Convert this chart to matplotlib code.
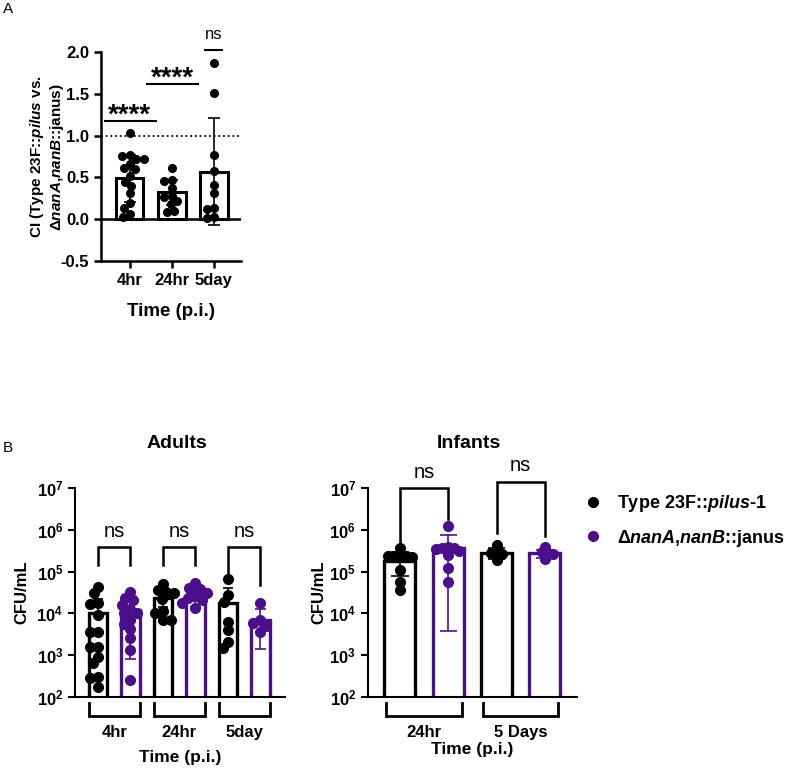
import numpy as np
import matplotlib
matplotlib.use('Agg')
import matplotlib.pyplot as plt
import matplotlib.transforms as mtransforms
from matplotlib.lines import Line2D

plt.rcParams['font.family'] = ['Liberation Sans', 'DejaVu Sans']
plt.rcParams['font.weight'] = 'bold'
plt.rcParams['axes.labelweight'] = 'bold'
plt.rcParams['mathtext.fontset'] = 'custom'
plt.rcParams['mathtext.rm'] = 'Liberation Sans:bold'
plt.rcParams['mathtext.it'] = 'Liberation Sans:bold:italic'
plt.rcParams['mathtext.bf'] = 'Liberation Sans:bold'

PURPLE = '#4B0F8C'

# ---- panel A: competitive index ----
ci_times = ['4hr', '24hr', '5day']
ci_4hr = [1.03, 0.77, 0.76, 0.72, 0.72, 0.66, 0.61, 0.60, 0.52, 0.45, 0.40, 0.31, 0.20, 0.14, 0.06, 0.03]
ci_24hr = [0.61, 0.47, 0.46, 0.37, 0.28, 0.27, 0.22, 0.18, 0.10, 0.09]
ci_5day = [1.87, 1.51, 0.77, 0.58, 0.41, 0.31, 0.14, 0.12, 0.03, 0.01]
ci_mean = [0.49, 0.32, 0.57]
ci_sd = [0.28, 0.145, 0.64]

# ---- panel B: CFU/mL (log10 of each animal) ----
adult_times = ['4hr', '24hr', '5day']
adult_wt = [[4.64, 4.48, 4.26, 4.22, 3.95, 3.55, 3.55, 3.20, 3.20, 2.95, 2.80, 2.48, 2.45, 2.24],
            [4.70, 4.55, 4.52, 4.48, 4.35, 4.05, 4.00, 3.85, 3.83],
            [4.82, 4.44, 4.28, 3.80, 3.60, 3.32, 3.18]]
adult_mut = [[4.52, 4.38, 4.32, 4.20, 4.10, 4.00, 4.00, 3.85, 3.75, 3.62, 3.40, 3.12, 2.40],
             [4.74, 4.62, 4.58, 4.50, 4.42, 4.38, 4.32, 4.25, 4.12],
             [4.24, 3.84, 3.78, 3.70, 3.55]]
adult_wt_mean = [1.0e4, 2.3e4, 1.75e4]
adult_wt_hi = [2.2e4, 3.3e4, 4.0e4]
adult_wt_lo = [None, 1.4e4, None]
adult_mut_mean = [1.2e4, 2.5e4, 7.0e3]
adult_mut_hi = [1.9e4, 4.0e4, 1.3e4]
adult_mut_lo = [8.0e2, 1.45e4, 1.4e3]

infant_times = ['24hr', '5 Days']
infant_wt = [[5.57, 5.40, 5.38, 5.38, 5.37, 5.36, 5.05, 4.75, 4.55],
             [5.65, 5.48, 5.45, 5.43, 5.28]]
infant_mut = [[6.10, 5.60, 5.58, 5.57, 5.55, 5.50, 5.40, 5.10, 4.76],
              [5.60, 5.48, 5.45, 5.42, 5.30]]
infant_wt_mean = [1.8e5, 2.8e5]
infant_wt_hi = [2.9e5, 3.7e5]
infant_wt_lo = [8.0e4, 2.0e5]
infant_mut_mean = [3.7e5, 2.75e5]
infant_mut_hi = [7.6e5, 3.4e5]
infant_mut_lo = [3.7e3, 2.1e5]


def swarm(vals, ypx, xpx, d):
    # simple beeswarm: each point goes to the free spot nearest the centre line
    y = np.asarray(vals, float) * ypx
    order = np.argsort(-y)
    placed = []
    offs = np.zeros(len(y))
    for k in order:
        cands = [0.0]
        for px, py in placed:
            dy = abs(py - y[k])
            if dy < d:
                dx = np.sqrt(d * d - dy * dy)
                cands += [px - dx, px + dx]
        cands.sort(key=abs)
        for c in cands:
            if all((c - px) ** 2 + (y[k] - py) ** 2 >= d * d - 1e-6 for px, py in placed):
                break
        placed.append((c, y[k]))
        offs[k] = c / xpx
    return offs


fig = plt.figure(figsize=(8, 7.7), dpi=100)

# ================= panel A =================
ax = fig.add_axes([0.126, 0.661, 0.175, 0.2714])
xa = np.arange(len(ci_times))
ax.bar(xa, ci_mean, width=0.65, facecolor='white', edgecolor='black', linewidth=2.2, zorder=2)
for i, pts in enumerate([ci_4hr, ci_24hr, ci_5day]):
    offs = swarm(pts, 83.4, 42, 7.5)
    ax.plot(xa[i] + offs, pts, 'o', color='black', ms=5.5, zorder=3)
    ax.vlines(xa[i], ci_mean[i] - ci_sd[i], ci_mean[i] + ci_sd[i], color='black', lw=1.2, zorder=4)
    ax.hlines([ci_mean[i] - ci_sd[i], ci_mean[i] + ci_sd[i]], xa[i] - 0.14, xa[i] + 0.14,
              color='black', lw=1.2, zorder=4)
ax.axhline(0, color='black', lw=1.8, zorder=1)
ax.axhline(1, color='black', lw=1.3, ls=(0, (1, 1.6)), zorder=1)
ax.set_xlim(-0.69, 2.64)
ax.set_ylim(-0.5, 2.0)
ax.set_yticks([-0.5, 0, 0.5, 1.0, 1.5, 2.0])
ax.set_yticklabels(['-0.5', '0.0', '0.5', '1.0', '1.5', '2.0'])
ax.set_xticks(xa)
ax.set_xticklabels(ci_times)
ax.tick_params(labelsize=12, length=5, width=1.8)
for s in ['top', 'right']:
    ax.spines[s].set_visible(False)
for s in ['left', 'bottom']:
    ax.spines[s].set_linewidth(1.8)
ax.set_xlabel('Time (p.i.)', fontsize=13.5, labelpad=11)
fig.text(47 / 800, 1 - 157 / 770,
         'CI (Type 23F::$\\it{pilus}$ vs.\nΔ$\\it{nanA}$,$\\it{nanB}$::janus)',
         rotation=90, ha='center', va='center', fontsize=11, linespacing=1.1)
# significance marks
ax.plot([-0.6, 0.62], [1.18, 1.18], color='black', lw=1.5, clip_on=False)
ax.text(0.0, 1.16, '****', ha='center', va='baseline', fontsize=20)
ax.plot([0.4, 1.62], [1.62, 1.62], color='black', lw=1.5, clip_on=False)
ax.text(1.01, 1.6, '****', ha='center', va='baseline', fontsize=20)
ax.plot([1.79, 2.19], [2.02, 2.02], color='black', lw=1.5, clip_on=False)
ax.text(1.99, 2.16, 'ns', ha='center', va='baseline', fontsize=12, fontweight='normal')


def cfu_panel(ax, times, wt, mut, wt_mean, wt_hi, wt_lo, mut_mean, mut_hi, mut_lo,
              width, xpx, dot_gap, xlim):
    xg = np.arange(len(times))
    for i in range(len(times)):
        for side, pts, mean, hi, lo, col in [(-0.25, wt[i], wt_mean[i], wt_hi[i], wt_lo[i], 'black'),
                                             (0.25, mut[i], mut_mean[i], mut_hi[i], mut_lo[i], PURPLE)]:
            xb = xg[i] + side
            ax.bar(xb, mean, width=width, facecolor='white', edgecolor=col, linewidth=2.4, zorder=2)
            offs = swarm(pts, 41.7, xpx, dot_gap)
            ax.plot(xb + offs, 10 ** np.asarray(pts), 'o', color=col, ms=7, zorder=3)
            ax.vlines(xb, lo if lo is not None else mean, hi, color=col, lw=1.2, zorder=4)
            ax.hlines(hi, xb - width * 0.28, xb + width * 0.28, color=col, lw=1.2, zorder=4)
            if lo is not None:
                ax.hlines(lo, xb - width * 0.28, xb + width * 0.28, color=col, lw=1.2, zorder=4)
    ax.set_yscale('log')
    ax.set_ylim(1e2, 1e7)
    ax.set_xlim(*xlim)
    ax.set_yticks([1e2, 1e3, 1e4, 1e5, 1e6, 1e7])
    ax.set_yticklabels(['$\\mathbf{10^{%d}}$' % k for k in range(2, 8)])
    ax.yaxis.set_minor_locator(matplotlib.ticker.NullLocator())
    ax.set_xticks([])
    ax.tick_params(axis='y', labelsize=12, length=5, width=1.5)
    for s in ['top', 'right']:
        ax.spines[s].set_visible(False)
    for s in ['left', 'bottom']:
        ax.spines[s].set_linewidth(1.5)
    # group brackets below the axis
    tr = mtransforms.blended_transform_factory(ax.transData, ax.transAxes)
    for i, t in enumerate(times):
        x0, x1 = xg[i] - 0.39, xg[i] + 0.39
        ax.plot([x0, x0, x1, x1], [-0.03, -0.093, -0.093, -0.03], color='black', lw=2,
                transform=tr, clip_on=False, solid_joinstyle='miter')
        ax.text(xg[i], -0.17, t, transform=tr, ha='center', va='center', fontsize=12)
    ax.set_ylabel('CFU/mL', fontsize=12)


# ================= panel B: adults =================
axb = fig.add_axes([0.094, 0.0952, 0.2625, 0.2706])
cfu_panel(axb, adult_times, adult_wt, adult_mut, adult_wt_mean, adult_wt_hi, adult_wt_lo,
          adult_mut_mean, adult_mut_hi, adult_mut_lo, 0.29, 65, 8.0, (-0.6, 2.63))
axb.yaxis.set_label_coords(-0.22, 0.5)
axb.text(0.5, -0.29, 'Time (p.i.)', transform=axb.transAxes, ha='center', va='center', fontsize=12.5)
for i, (top, l, r) in enumerate([(5.6, 5.16, 5.16), (5.6, 5.16, 5.16), (5.6, 4.72, 4.68)]):
    axb.plot([i - 0.25, i - 0.25, i + 0.25, i + 0.25], [10 ** l, 10 ** top, 10 ** top, 10 ** r],
             color='black', lw=1.8, solid_joinstyle='miter')
    axb.text(i, 10 ** 5.96, 'ns', ha='center', va='center', fontsize=14.5, fontweight='normal')
fig.text(177 / 800, 1 - 444 / 770, 'Adults', ha='center', va='center', fontsize=14)

# ================= panel B: infants =================
axc = fig.add_axes([0.46, 0.0952, 0.261, 0.2706])
cfu_panel(axc, infant_times, infant_wt, infant_mut, infant_wt_mean, infant_wt_hi, infant_wt_lo,
          infant_mut_mean, infant_mut_hi, infant_mut_lo, 0.32, 97, 6.0, (-0.58, 1.58))
axc.yaxis.set_label_coords(-0.2, 0.5)
axc.text(0.5, -0.255, 'Time (p.i.)', transform=axc.transAxes, ha='center', va='center', fontsize=12.5)
for i, (top, l, r, ty) in enumerate([(7.0, 5.6, 6.26, 7.38), (7.16, 5.93, 5.85, 7.54)]):
    axc.plot([i - 0.25, i - 0.25, i + 0.25, i + 0.25], [10 ** l, 10 ** top, 10 ** top, 10 ** r],
             color='black', lw=1.8, clip_on=False, solid_joinstyle='miter')
    axc.text(i, 10 ** ty, 'ns', ha='center', va='center', fontsize=14.5, fontweight='normal')
fig.text(469 / 800, 1 - 444 / 770, 'Infants', ha='center', va='center', fontsize=14)

# legend
handles = [Line2D([], [], marker='o', ls='', color='black', ms=7),
           Line2D([], [], marker='o', ls='', color=PURPLE, ms=7)]
labels = ['Type 23F::$\\it{pilus}$-$\\it{1}$', 'Δ$\\it{nanA}$,$\\it{nanB}$::janus']
fig.legend(handles, labels, loc='center left', bbox_to_anchor=(566 / 800, 1 - 521 / 770),
           frameon=False, fontsize=13, handletextpad=0.7, labelspacing=0.75, handlelength=1.2)

fig.text(0.004, 0.998, 'A', ha='left', va='top', fontsize=11, fontweight='normal')
fig.text(0.004, 1 - 448 / 770, 'B', ha='left', va='center', fontsize=11, fontweight='normal')

fig.savefig('out.png', dpi=100)
